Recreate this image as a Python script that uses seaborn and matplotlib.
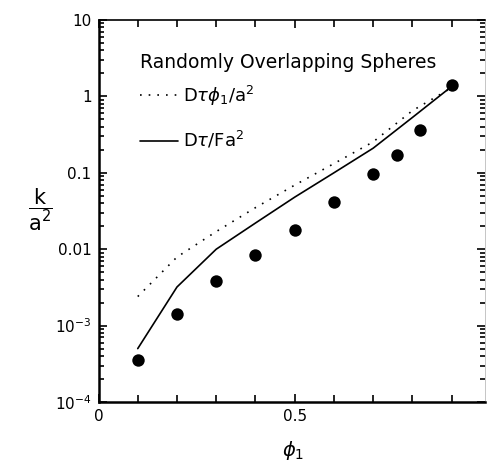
#!/usr/bin/env python3

import matplotlib.pyplot as plt
import matplotlib.ticker as mticker
import pandas as pd
import seaborn as sns

# measured points (filled circles)
phi_pts = [0.1, 0.2, 0.3, 0.4, 0.5, 0.6, 0.7, 0.76, 0.82, 0.9]
k_pts = [3.5e-4, 1.4e-3, 3.8e-3, 8.4e-3, 0.0178, 0.041, 0.097, 0.173, 0.36, 1.40]

# curves
phi_curve = [0.1, 0.2, 0.3, 0.4, 0.5, 0.6, 0.7, 0.8, 0.9]
k_dtphi = [2.4e-3, 7.9e-3, 0.017, 0.035, 0.069, 0.132, 0.254, 0.65, 1.3]
k_dtf = [5.0e-4, 3.2e-3, 0.0100, 0.022, 0.048, 0.10, 0.21, 0.53, 1.35]

ytick_vals = [1e-4, 1e-3, 1e-2, 1e-1, 1, 10]
ytick_labels = ["10$^{-4}$", "10$^{-3}$", "0.01", "0.1", "1", "10"]
xtick_vals = [0, 0.5]
xtick_labels = ["0", "0.5"]

pts = pd.DataFrame({"phi": phi_pts, "k": k_pts})
curves = pd.DataFrame({"phi": phi_curve, "dtphi": k_dtphi, "dtf": k_dtf})

sns.set_theme(style="ticks")
plt.rcParams["font.family"] = ["DejaVu Sans"]
plt.rcParams["mathtext.fontset"] = "dejavusans"
plt.rcParams["text.color"] = "black"
plt.rcParams["axes.labelcolor"] = "black"

fig = plt.figure(figsize=(4.87, 4.68), dpi=100)
ax = fig.add_axes([98.5 / 487, 1 - 402 / 468, (485 - 98.5) / 487, (402 - 20) / 468])

sns.lineplot(data=curves, x="phi", y="dtphi", ax=ax, color="black", lw=1.2,
             linestyle=(0, (1, 4.2)), label=r"D$\tau\phi_1$/a$^2$")
sns.lineplot(data=curves, x="phi", y="dtf", ax=ax, color="black", lw=1.2,
             label=r"D$\tau$/Fa$^2$")
sns.scatterplot(data=pts, x="phi", y="k", ax=ax, color="black", s=80,
                edgecolor="black", linewidth=0, zorder=5)

ax.set_yscale("log")
ax.set_ylim(1e-4, 10)
ax.set_xlim(0, 0.985)

ax.set_yticks(ytick_vals)
ax.set_yticklabels(ytick_labels)
ax.yaxis.set_minor_locator(mticker.LogLocator(base=10, subs=range(2, 10), numticks=20))
ax.yaxis.set_minor_formatter(mticker.NullFormatter())
ax.set_xticks(xtick_vals)
ax.set_xticklabels(xtick_labels)
ax.xaxis.set_minor_locator(mticker.MultipleLocator(0.1))

ax.tick_params(which="both", direction="in", top=True, right=True,
               colors="black", labelsize=11, width=1.2)
ax.tick_params(which="major", length=6, pad=5)
ax.tick_params(which="minor", length=3.5)
ax.tick_params(axis="x", which="minor", length=5)

for side, lw in [("left", 1.8), ("bottom", 1.8), ("top", 1.2), ("right", 0.6)]:
    ax.spines[side].set_linewidth(lw)
    ax.spines[side].set_color("black")
ax.spines["right"].set_color("#bbbbbb")

ax.set_xlabel(r"$\phi_1$", fontsize=14, va="center")
ax.xaxis.set_label_coords(0.503, -0.126)
ax.set_ylabel(r"$\dfrac{\mathsf{k}}{\mathsf{a}^2}$", fontsize=15, rotation=0,
              ha="center", va="center")
ax.yaxis.set_label_coords(-0.151, 0.503)

ax.text(0.107, 0.890, "Randomly Overlapping Spheres", transform=ax.transAxes,
        fontsize=13.5, va="center", ha="left")

ax.legend(loc="upper left", bbox_to_anchor=(0.107, 0.834), frameon=False,
          fontsize=13, handlelength=2.1, handletextpad=0.3, labelspacing=1.23,
          borderpad=0, borderaxespad=0)

fig.savefig("out.png", dpi=100)
